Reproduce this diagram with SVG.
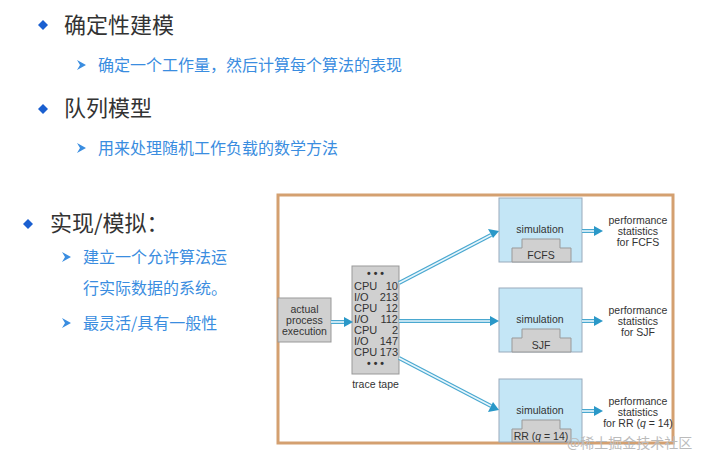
<svg xmlns="http://www.w3.org/2000/svg" width="715" height="466" viewBox="0 0 715 466">
<defs>
<style>
.h{font-family:"Noto Sans CJK SC",sans-serif;font-size:22px;fill:#333}
.s{font-family:"Noto Sans CJK SC",sans-serif;font-size:16px;fill:#3a8de0}
.d{fill:#1a5fd0}
.a{fill:#3a8de0}
.t{font-family:"Liberation Sans",Arial,sans-serif;font-size:10.5px;fill:#333}
.tt{font-family:"Liberation Sans",Arial,sans-serif;font-size:11px;fill:#333}
.box{fill:#d0d0d0;stroke:#999;stroke-width:1}
.sim{fill:#c4e6f6;stroke:#9ab;stroke-width:1}
.arr{stroke:#4aa8d0;stroke-width:4;fill:none}
.arri{stroke:#e8f6fc;stroke-width:1.6;fill:none}
</style>
</defs>
<rect width="715" height="466" fill="#fff"/>
<g id="text">
<path class="d" d="M43,20 L48,25 L43,30 L38,25 Z"/>
<text class="h" x="64" y="33">确定性建模</text>
<path class="a" d="M77,60 L86,65 L77,70 L80,65 Z"/>
<text class="s" x="98" y="71">确定一个工作量，然后计算每个算法的表现</text>
<path class="d" d="M43,104 L48,109 L43,114 L38,109 Z"/>
<text class="h" x="64" y="116">队列模型</text>
<path class="a" d="M77,143 L86,148 L77,153 L80,148 Z"/>
<text class="s" x="98" y="154">用来处理随机工作负载的数学方法</text>
<path class="d" d="M28,219 L33,224 L28,229 L23,224 Z"/>
<text class="h" x="50" y="231">实现/模拟：</text>
<path class="a" d="M62,252 L71,257 L62,262 L65,257 Z"/>
<text class="s" x="83" y="263">建立一个允许算法运</text>
<text class="s" x="83" y="294">行实际数据的系统。</text>
<path class="a" d="M62,318 L71,323 L62,328 L65,323 Z"/>
<text class="s" x="83" y="329">最灵活/具有一般性</text>
</g>
<rect x="278" y="195" width="395" height="248" fill="#fff" stroke="#d4a070" stroke-width="3"/>
<g id="actual"><rect class="box" x="278" y="298" width="53" height="44"/>
<text class="t" x="304.5" y="313" text-anchor="middle">actual</text>
<text class="t" x="304.5" y="324" text-anchor="middle">process</text>
<text class="t" x="304.5" y="335" text-anchor="middle">execution</text></g>
<g id="tape"><rect class="box" x="352" y="266" width="47" height="108"/>
<text class="t" x="375.5" y="277" text-anchor="middle" font-weight="bold">• • •</text>
<g class="tt"><text x="354" y="290">CPU</text><text x="398" y="290" text-anchor="end">10</text>
<text x="354" y="301">I/O</text><text x="398" y="301" text-anchor="end">213</text>
<text x="354" y="312">CPU</text><text x="398" y="312" text-anchor="end">12</text>
<text x="354" y="323">I/O</text><text x="398" y="323" text-anchor="end">112</text>
<text x="354" y="334">CPU</text><text x="398" y="334" text-anchor="end">2</text>
<text x="354" y="345">I/O</text><text x="398" y="345" text-anchor="end">147</text>
<text x="354" y="356">CPU</text><text x="398" y="356" text-anchor="end">173</text></g>
<text class="t" x="375.5" y="367" text-anchor="middle" font-weight="bold">• • •</text>
<text class="t" x="375.5" y="388" text-anchor="middle">trace tape</text></g>
<g id="sim1"><rect class="sim" x="499" y="198" width="83" height="64"/>
<text class="t" x="540" y="233" text-anchor="middle">simulation</text>
<path class="box" d="M512,262 V248 H522 V239 H560 V248 H571 V262 Z"/>
<text class="t" x="541" y="259" text-anchor="middle">FCFS</text></g>
<g id="sim2"><rect class="sim" x="499" y="288" width="83" height="64"/>
<text class="t" x="540" y="323" text-anchor="middle">simulation</text>
<path class="box" d="M512,352 V338 H522 V329 H560 V338 H571 V352 Z"/>
<text class="t" x="541" y="349" text-anchor="middle">SJF</text></g>
<g id="sim3"><rect class="sim" x="499" y="379" width="83" height="63"/>
<text class="t" x="540" y="414" text-anchor="middle">simulation</text>
<path class="box" d="M512,442 V429 H522 V420 H560 V429 H571 V442 Z"/>
<text class="t" x="541" y="440" text-anchor="middle">RR (<tspan font-style="italic">q</tspan> = 14)</text></g>
<g id="out" class="t" text-anchor="middle">
<text x="638" y="224">performance</text><text x="638" y="235">statistics</text><text x="638" y="246">for FCFS</text>
<text x="638" y="314">performance</text><text x="638" y="325">statistics</text><text x="638" y="336">for SJF</text>
<text x="638" y="405">performance</text><text x="638" y="416">statistics</text><text x="638" y="427">for RR (<tspan font-style="italic">q</tspan> = 14)</text>
</g>
<g id="connectors">
<path class="arr" d="M331,322 H346"/><path class="arri" d="M331,322 H346"/><path d="M344,317 L353,322 L344,327 Z" fill="#2a98c8"/>
<path class="arr" d="M399,283 L491,235"/><path class="arri" d="M399,283 L491,235"/><path d="M488,229 L499,231 L493,238 Z" fill="#2a98c8"/>
<path class="arr" d="M399,321 H492"/><path class="arri" d="M399,321 H492"/><path d="M490,316 L499,321 L490,326 Z" fill="#2a98c8"/>
<path class="arr" d="M399,358 L491,406"/><path class="arri" d="M399,358 L491,406"/><path d="M493,402 L499,410 L488,412 Z" fill="#2a98c8"/>
<path class="arr" d="M582,231 H596"/><path class="arri" d="M582,231 H596"/><path d="M594,226 L603,231 L594,236 Z" fill="#2a98c8"/>
<path class="arr" d="M582,321 H596"/><path class="arri" d="M582,321 H596"/><path d="M594,316 L603,321 L594,326 Z" fill="#2a98c8"/>
<path class="arr" d="M582,411 H596"/><path class="arri" d="M582,411 H596"/><path d="M594,406 L603,411 L594,416 Z" fill="#2a98c8"/>
</g>
<text x="567" y="448" font-family="Noto Sans CJK SC,sans-serif" font-size="14" fill="#bbb">@稀土掘金技术社区</text>
</svg>
